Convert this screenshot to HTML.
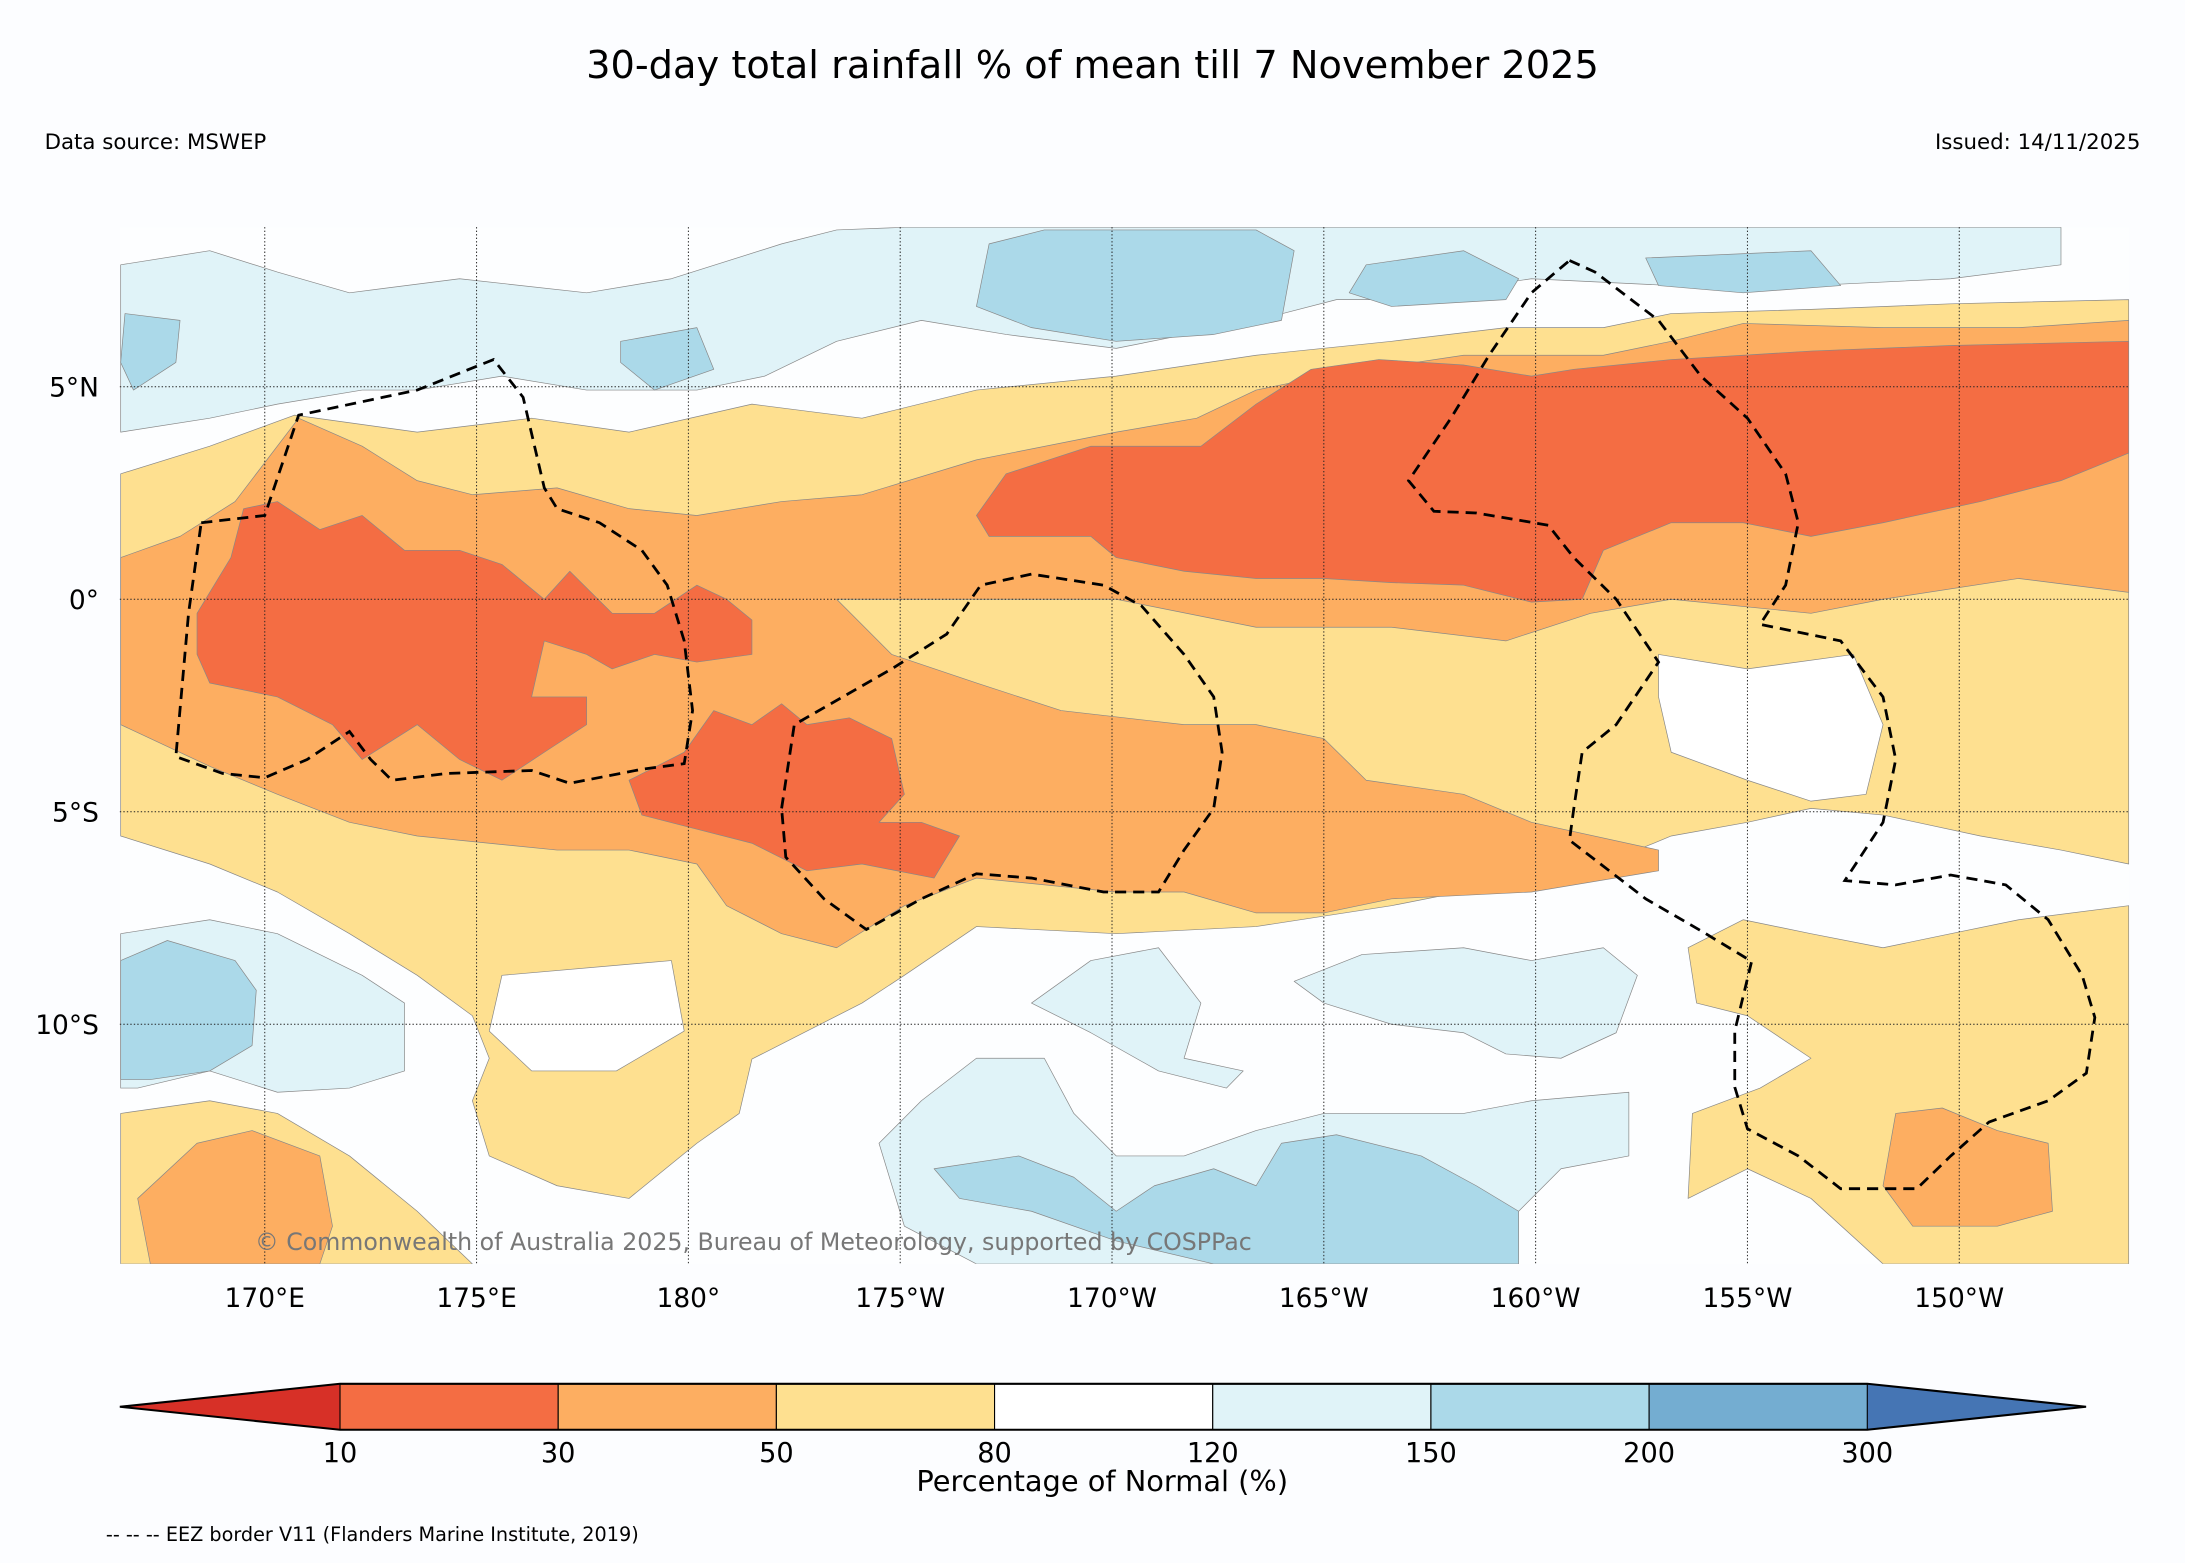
<!DOCTYPE html>
<html><head><meta charset="utf-8"><style>
html,body{margin:0;padding:0;background:#fcfdff;}
svg{display:block;font-family:"DejaVu Sans","Liberation Sans",sans-serif;}
</style></head><body>
<svg id="fig" width="2185" height="1563" viewBox="0 0 1568 1121.6" xmlns="http://www.w3.org/2000/svg">
<rect x="0" y="0" width="1568" height="1121.6" fill="#fcfdff"/>
<text x="784" y="56" text-anchor="middle" font-size="27.5" fill="#000">30-day total rainfall % of mean till 7 November 2025</text>
<text x="32" y="107" font-size="15.3">Data source: MSWEP</text>
<text x="1536" y="107" font-size="15.3" text-anchor="end">Issued: 14/11/2025</text>
<g id="map"></g>
<g id="cbar"></g>
<text x="791" y="1070" text-anchor="middle" font-size="20.7">Percentage of Normal (%)</text>
<text x="76" y="1106" font-size="13.8">-- -- -- EEZ border V11 (Flanders Marine Institute, 2019)</text>
</svg>
<script>
// ---- data ----
const lonTicks=[170,175,180,185,190,195,200,205,210];
const lonLabels=["170°E","175°E","180°","175°W","170°W","165°W","160°W","155°W","150°W"];
const latTicks=[5,0,-5,-10];
const latLabels=["5°N","0°","5°S","10°S"];
const levels=[10,30,50,80,120,150,200,300];
const levelColors=["#f46d43","#fdae61","#fee090","#ffffff","#e0f3f8","#abd9e9","#74add1"];
const underColor="#d73027", overColor="#4575b4";
const yellowMain=[[166.6,2.95],[168.7,3.6],[170.7,4.33],[173.6,3.93],[176.3,4.26],[178.6,3.93],[181.5,4.59],[184.1,4.26],[186.8,4.92],[190.1,5.25],[193.4,5.74],[196.6,6.07],[199.3,6.39],[201.6,6.39],[203.2,6.72],[206.5,6.82],[209.8,6.95],[214,7.05],[214,-6.23],[212.4,-5.9],[210.5,-5.57],[208.2,-5.08],[206.5,-4.92],[205,-5.25],[203.2,-5.57],[201.6,-6.23],[199.9,-6.56],[196.6,-7.21],[193.4,-7.7],[190.1,-7.87],[186.8,-7.7],[185.1,-8.85],[184.1,-9.5],[182.8,-10.16],[181.5,-10.82],[181.2,-12.1],[180.2,-12.8],[178.6,-14.1],[176.9,-13.8],[175.3,-13.1],[174.9,-11.8],[175.3,-10.8],[174.9,-9.8],[173.6,-8.85],[172,-7.87],[170.3,-6.89],[168.7,-6.23],[166.6,-5.57]];
const yellowLR=[[203.6,-8.2],[204.9,-7.54],[206.5,-7.87],[208.2,-8.2],[209.8,-7.87],[211.4,-7.54],[214,-7.21],[214,-15.64],[208.2,-15.64],[206.5,-14.1],[205,-13.4],[203.6,-14.1],[203.7,-12.1],[205.3,-11.5],[206.5,-10.8],[205,-9.8],[203.8,-9.5]];
const yellowLL=[[166.6,-12.1],[168.7,-11.8],[170.3,-12.1],[172,-13.1],[173.6,-14.4],[174.9,-15.64],[166.6,-15.64]];
const whiteHoleA=[[175.6,-8.85],[179.6,-8.5],[179.9,-10.16],[178.3,-11.1],[176.3,-11.1],[175.3,-10.16]];
const whiteHoleB=[[202.9,-1.3],[205,-1.64],[207.5,-1.3],[208.2,-2.95],[207.8,-4.59],[206.5,-4.75],[205,-4.26],[203.2,-3.6],[202.9,-2.3]];
const orangeMain=[[166.6,0.98],[168,1.48],[169.3,2.3],[170.8,4.26],[172.3,3.6],[173.6,2.79],[174.9,2.46],[176.9,2.62],[178.6,2.13],[180.2,1.97],[182.2,2.3],[184.1,2.46],[186.8,3.28],[190.1,3.93],[192,4.26],[193.4,4.92],[195,5.25],[198.3,5.74],[201.6,5.74],[203.2,6.07],[204.9,6.49],[208.2,6.39],[211.4,6.39],[214,6.56],[214,0.16],[211.4,0.49],[208.2,0],[206.5,-0.33],[203.2,0],[201.3,-0.33],[199.3,-0.98],[196.6,-0.66],[193.4,-0.66],[190.1,0],[186.8,0],[183.5,0],[184.8,-1.3],[186.8,-1.97],[188.8,-2.62],[191.7,-2.95],[193.4,-2.95],[195,-3.28],[196,-4.26],[198.3,-4.59],[199.9,-5.25],[202.9,-5.9],[202.9,-6.39],[199.9,-6.89],[196.6,-7.05],[195,-7.38],[193.4,-7.38],[191.7,-6.89],[190.1,-6.89],[186.8,-6.56],[185.1,-7.21],[183.5,-8.2],[182.2,-7.87],[180.9,-7.21],[180.2,-6.23],[178.6,-5.9],[176.9,-5.9],[173.6,-5.57],[172,-5.25],[170.3,-4.59],[168.7,-3.93],[166.6,-2.95]];
const orangeLR=[[208.5,-12.1],[209.6,-11.97],[210.9,-12.5],[212.1,-12.8],[212.2,-14.4],[210.9,-14.75],[208.9,-14.75],[208.2,-13.8]];
const orangeLL=[[167,-14.1],[168.4,-12.8],[169.7,-12.5],[171.3,-13.1],[171.6,-14.75],[171.3,-15.64],[167.3,-15.64]];
const redWest=[[168.4,-0.33],[169.2,0.98],[169.5,2.13],[170.3,2.3],[171.3,1.64],[172.3,1.97],[173.3,1.15],[174.6,1.15],[175.6,0.82],[176.6,0],[177.2,0.66],[178.2,-0.33],[179.2,-0.33],[180.2,0.33],[180.9,0],[181.5,-0.49],[181.5,-1.3],[180.2,-1.48],[179.2,-1.3],[178.2,-1.64],[177.6,-1.3],[176.6,-0.98],[176.3,-2.3],[177.6,-2.3],[177.6,-2.95],[176.6,-3.6],[175.6,-4.26],[174.6,-3.77],[173.6,-2.95],[172.3,-3.77],[171.6,-2.95],[170.3,-2.3],[168.7,-1.97],[168.4,-1.3]];
const redCentral=[[178.6,-4.26],[179.9,-3.6],[180.6,-2.62],[181.5,-2.95],[182.2,-2.46],[182.8,-2.95],[183.8,-2.79],[184.8,-3.28],[185.1,-4.59],[184.5,-5.25],[185.5,-5.25],[186.4,-5.57],[185.8,-6.56],[184.1,-6.23],[182.8,-6.39],[181.5,-5.74],[180.2,-5.41],[178.9,-5.08]];
const redNorthEast=[[186.8,1.97],[187.5,2.95],[189.5,3.6],[192.1,3.6],[193.4,4.59],[194.7,5.41],[196.3,5.64],[198.3,5.51],[199.9,5.25],[200.9,5.41],[203.2,5.64],[204.9,5.74],[206.5,5.84],[209.8,5.97],[214,6.07],[214,3.44],[212.4,2.79],[210.5,2.3],[208.2,1.8],[206.5,1.48],[204.9,1.8],[203.2,1.8],[201.6,1.15],[201.1,0],[199.9,-0.07],[198.3,0.33],[196.6,0.39],[195,0.49],[193.4,0.49],[191.7,0.66],[190.1,0.98],[189.5,1.48],[188.1,1.48],[187.1,1.48]];
const blueTopBand=[[166.6,7.87],[168.7,8.2],[170.3,7.7],[172,7.21],[174.6,7.54],[177.6,7.21],[179.6,7.54],[182.2,8.36],[183.5,8.69],[185.1,8.75],[212.4,8.75],[212.4,7.87],[209.8,7.54],[206.5,7.38],[203.2,7.38],[199.9,7.54],[196.6,7.05],[195.3,7.05],[193.4,6.56],[190.1,5.9],[187.5,6.23],[185.5,6.56],[183.5,6.07],[181.8,5.25],[180.2,4.92],[177.6,4.92],[175.6,5.25],[173.6,4.92],[172.3,4.92],[170.3,4.59],[168.7,4.26],[166.6,3.93]];
const midBlueTop1=[[187.1,8.36],[188.4,8.69],[193.4,8.69],[194.3,8.2],[194,6.56],[192.4,6.23],[190.1,6.07],[188.1,6.39],[186.8,6.89]];
const midBlueTop2=[[196,7.87],[198.3,8.2],[199.6,7.54],[199.3,7.05],[196.6,6.89],[195.6,7.21]];
const midBlueTop3=[[202.6,8.03],[206.5,8.2],[207.2,7.38],[204.9,7.21],[202.9,7.38]];
const midBlueTop4=[[166.7,6.72],[168,6.56],[167.9,5.57],[166.9,4.92],[166.6,5.57]];
const midBlueTop5=[[178.4,6.07],[180.2,6.39],[180.6,5.41],[179.2,4.92],[178.4,5.57]];
const blueSW=[[166.6,-7.87],[168.7,-7.54],[170.3,-7.87],[172.3,-8.85],[173.3,-9.5],[173.3,-11.1],[172,-11.5],[170.3,-11.6],[168.7,-11.1],[167,-11.5],[166.6,-11.5]];
const midBlueSW=[[166.6,-8.5],[167.7,-8.03],[169.3,-8.5],[169.8,-9.2],[169.7,-10.5],[168.7,-11.1],[167.3,-11.3],[166.6,-11.3]];
const blueSouth=[[184.5,-12.8],[185.5,-11.8],[186.8,-10.8],[188.4,-10.8],[189.1,-12.1],[190.1,-13.1],[191.7,-13.1],[193.4,-12.5],[195,-12.1],[198.3,-12.1],[199.9,-11.8],[202.2,-11.6],[202.2,-13.1],[200.6,-13.4],[199.6,-14.4],[199.6,-15.64],[186.8,-15.64],[185.1,-14.75]];
const midBlueSouth=[[185.8,-13.4],[187.8,-13.1],[189.1,-13.6],[190.1,-14.4],[191,-13.8],[192.4,-13.4],[193.4,-13.8],[194,-12.8],[195.3,-12.6],[197.3,-13.1],[198.6,-13.8],[199.6,-14.4],[199.6,-15.64],[192.4,-15.64],[190.1,-15.1],[188.1,-14.4],[186.4,-14.1]];
const blueMidS1=[[194.3,-8.99],[195.9,-8.36],[198.3,-8.2],[199.9,-8.5],[201.6,-8.2],[202.4,-8.85],[201.9,-10.2],[200.6,-10.8],[199.3,-10.7],[198.3,-10.2],[196.6,-10],[195,-9.5]];
const blueMidS2=[[188.1,-9.5],[189.5,-8.5],[191.1,-8.2],[192.1,-9.5],[191.7,-10.8],[193.1,-11.1],[192.7,-11.5],[191.1,-11.1],[189.5,-10.2]];
const eezGilbert=[[168.5,1.8],[170,1.97],[170.8,4.33],[173.6,4.92],[175.4,5.64],[176.1,4.75],[176.6,2.62],[176.9,2.13],[177.9,1.8],[178.9,1.15],[179.5,0.33],[179.9,-0.98],[180.1,-2.62],[179.9,-3.87],[178.9,-4],[177.2,-4.33],[176.3,-4.03],[174.3,-4.1],[173,-4.26],[172.5,-3.77],[172,-3.11],[171,-3.77],[170,-4.2],[169,-4.1],[167.9,-3.7],[168.2,-0.33],[168.5,1.8]];
const eezPhoenix=[[182.2,-4.92],[182.5,-2.95],[184.8,-1.64],[186.1,-0.82],[186.9,0.33],[188.1,0.59],[189.8,0.33],[190.7,-0.16],[191.7,-1.3],[192.4,-2.3],[192.6,-3.6],[192.4,-4.92],[191.7,-5.9],[191.1,-6.89],[189.8,-6.89],[188.1,-6.56],[186.8,-6.46],[185.5,-7.05],[184.2,-7.77],[183.2,-7.05],[182.3,-6.07],[182.2,-4.92]];
const eezLine=[[200.8,7.97],[201.4,7.7],[202.9,6.56],[203.9,5.25],[205,4.26],[205.9,2.95],[206.2,1.8],[205.9,0.33],[205.3,-0.59],[207.2,-0.98],[208.2,-2.3],[208.5,-3.77],[208.2,-5.25],[207.3,-6.62],[208.5,-6.72],[209.8,-6.49],[211.1,-6.72],[212.1,-7.54],[212.9,-8.85],[213.2,-9.84],[213,-11.15],[212.1,-11.8],[210.7,-12.3],[209.8,-13.1],[209,-13.87],[207.2,-13.87],[206.2,-13.1],[205,-12.46],[204.7,-11.48],[204.7,-10.16],[205.1,-8.52],[203.9,-7.8],[202.6,-7.05],[200.8,-5.67],[200.9,-4.92],[201.1,-3.6],[201.9,-2.95],[202.9,-1.48],[201.9,0],[200.9,0.98],[200.3,1.74],[198.6,2.03],[197.6,2.07],[197,2.79],[198,4.26],[198.9,5.74],[199.9,7.21],[200.8,7.97]];

// ---- axes ----
const MAP={x0:86,x1:1528,y0:163,y1:907};
const lonX=lon=>190+(lon-170)*30.4;
const latY=lat=>430-lat*30.5;
const NS="http://www.w3.org/2000/svg";
function mk(tag,attrs,parent){const e=document.createElementNS(NS,tag);for(const k in attrs)e.setAttribute(k,attrs[k]);parent.appendChild(e);return e;}
const map=document.getElementById('map');
const defs=mk('defs',{},map);
const cp=mk('clipPath',{id:'mapclip'},defs);
mk('rect',{x:MAP.x0,y:MAP.y0,width:MAP.x1-MAP.x0,height:MAP.y1-MAP.y0},cp);
const bg=mk('rect',{x:MAP.x0,y:MAP.y0,width:MAP.x1-MAP.x0,height:MAP.y1-MAP.y0,fill:'#fdfeff'},map);


const fillG=mk('g',{'clip-path':'url(#mapclip)'},map);
function ptsStr(a){return a.map(p=>lonX(p[0]).toFixed(1)+','+latY(p[1]).toFixed(1)).join(' ');}
function region(a,color,name){
  const e=mk('polygon',{points:ptsStr(a),fill:color,stroke:'#888',"stroke-width":0.5,"stroke-linejoin":"round"},fillG);
  
  
}
region(blueTopBand,levelColors[4],'region-120-150-north');
region(midBlueTop1,levelColors[5],'region-150-200-north-a');
region(midBlueTop2,levelColors[5],'region-150-200-north-b');
region(midBlueTop3,levelColors[5],'region-150-200-north-c');
region(midBlueTop4,levelColors[5],'region-150-200-north-d');
region(midBlueTop5,levelColors[5],'region-150-200-north-e');
region(yellowMain,levelColors[2],'region-50-80-main');
region(yellowLR,levelColors[2],'region-50-80-southeast');
region(yellowLL,levelColors[2],'region-50-80-southwest');
region(whiteHoleA,levelColors[3],'region-80-120-hole-a');
region(whiteHoleB,levelColors[3],'region-80-120-hole-b');
region(orangeMain,levelColors[1],'region-30-50-main');
region(orangeLR,levelColors[1],'region-30-50-southeast');
region(orangeLL,levelColors[1],'region-30-50-southwest');
region(redWest,levelColors[0],'region-10-30-west');
region(redCentral,levelColors[0],'region-10-30-central');
region(redNorthEast,levelColors[0],'region-10-30-northeast');
region(blueSW,levelColors[4],'region-120-150-southwest');
region(midBlueSW,levelColors[5],'region-150-200-southwest');
region(blueSouth,levelColors[4],'region-120-150-south');
region(midBlueSouth,levelColors[5],'region-150-200-south');
region(blueMidS1,levelColors[4],'region-120-150-south-mid-a');
region(blueMidS2,levelColors[4],'region-120-150-south-mid-b');
// gridlines
lonTicks.forEach((lon,i)=>{
  const l=mk('line',{x1:lonX(lon),x2:lonX(lon),y1:MAP.y0,y2:MAP.y1,stroke:'#222',"stroke-width":0.7,"stroke-dasharray":"1,1.5"},map);
  
  
  const t=mk('text',{x:lonX(lon),y:938,"text-anchor":"middle","font-size":19},map);
  t.textContent=lonLabels[i];
  
  
});
latTicks.forEach((lat,i)=>{
  const l=mk('line',{x1:MAP.x0,x2:MAP.x1,y1:latY(lat),y2:latY(lat),stroke:'#222',"stroke-width":0.7,"stroke-dasharray":"1,1.5"},map);
  
  
  const t=mk('text',{x:71,y:latY(lat)+7,"text-anchor":"end","font-size":19},map);
  t.textContent=latLabels[i];
  
  
});
// EEZ
const eezG=mk('g',{'clip-path':'url(#mapclip)'},map);
[[eezGilbert,'eez-gilbert-islands'],[eezPhoenix,'eez-phoenix-islands'],[eezLine,'eez-line-islands']].forEach(([a,n])=>{
  const e=mk('polyline',{points:ptsStr(a),fill:'none',stroke:'#000',"stroke-width":2,"stroke-dasharray":"8,5"},eezG);
  
  
});
const cr=mk('text',{x:183,y:897,"font-size":17,fill:'#777'},map);
cr.textContent='© Commonwealth of Australia 2025, Bureau of Meteorology, supported by COSPPac';


// colorbar
const cb=document.getElementById('cbar');
const CB={x0:244,x1:1340,y0:993,y1:1026,tipL:86,tipR:1497};
const cbX=i=>CB.x0+(CB.x1-CB.x0)*i/(levels.length-1);
const ym=(CB.y0+CB.y1)/2;
const under=mk('polygon',{points:`${CB.tipL},${ym} ${CB.x0},${CB.y0} ${CB.x0},${CB.y1}`,fill:underColor},cb);


const over=mk('polygon',{points:`${CB.tipR},${ym} ${CB.x1},${CB.y0} ${CB.x1},${CB.y1}`,fill:overColor},cb);


levelColors.forEach((c,i)=>{
  const r=mk('rect',{x:cbX(i),y:CB.y0,width:cbX(i+1)-cbX(i),height:CB.y1-CB.y0,fill:c,stroke:'#000',"stroke-width":0.8},cb);
  
  
});
const outline=mk('polygon',{points:`${CB.tipL},${ym} ${CB.x0},${CB.y0} ${CB.x1},${CB.y0} ${CB.tipR},${ym} ${CB.x1},${CB.y1} ${CB.x0},${CB.y1}`,fill:'none',stroke:'#000',"stroke-width":1.5},cb);


levels.forEach((v,i)=>{
  const t=mk('text',{x:cbX(i),y:1049,"text-anchor":"middle","font-size":19.5},cb);
  t.textContent=v;
  
  
});
</script>
</body></html>
